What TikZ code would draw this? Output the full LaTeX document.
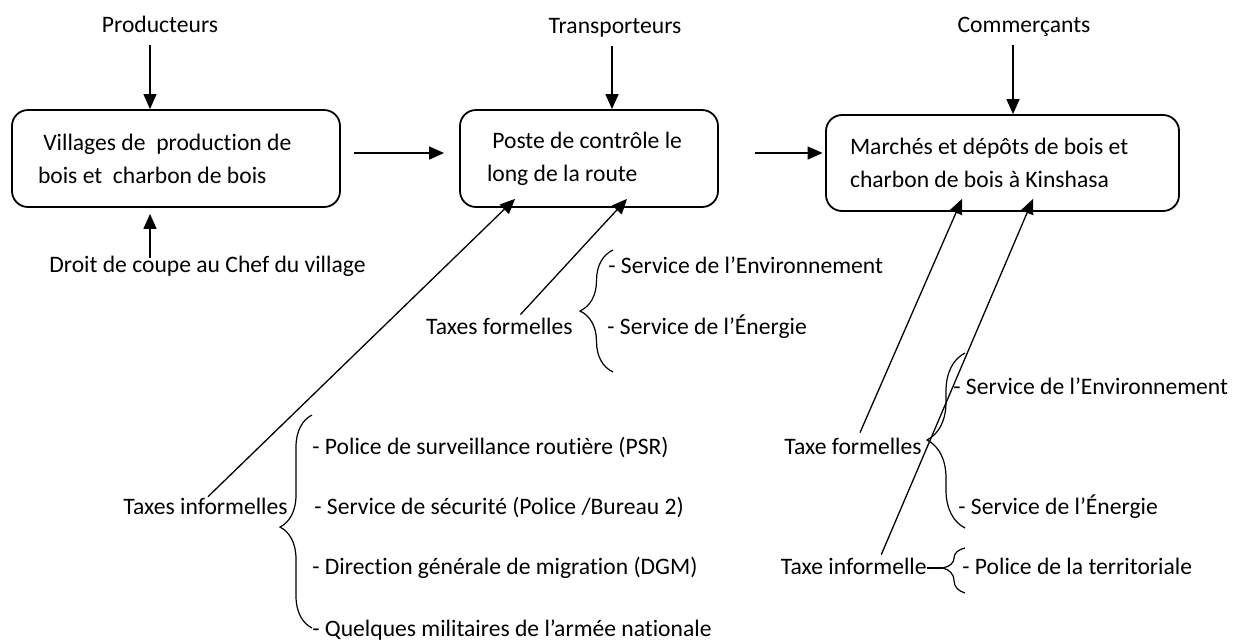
\documentclass[tikz,border=0pt]{standalone}
\usepackage{fontspec}
\setmainfont{Carlito}[Ligatures=NoCommon]
\usetikzlibrary{arrows.meta,calc,decorations.pathreplacing}

\tikzset{
  box/.style={draw, line width=0.9pt, rounded corners=8pt, align=flush left, minimum height=48.5pt, inner ysep=0pt},
  lbl/.style={inner sep=0pt, text height=8.5pt, text depth=2.5pt},
  arr/.style={line width=0.65pt, -{Triangle[length=7.5pt,width=6.5pt]}},
  accol/.style={line width=0.6pt, decorate, decoration={brace, amplitude=#1}},
}

\begin{document}
\begin{tikzpicture}[x=0.5pt, y=-0.5pt, font=\fontsize{11.8pt}{16.5pt}\selectfont]
        \useasboundingbox (0,0) rectangle (1234,639);

        % boxes
        \node[box, text width=138pt, inner xsep=13pt] (village) at (176,158.5) {\ Villages de\ \ production de\\bois et\ \ charbon de bois};
        \node[box, text width=102pt, inner xsep=13.5pt] (poste) at (589,158.5) {\ Poste de contrôle le\\long de la route};
        \node[box, text width=152.5pt, inner xsep=12pt, minimum height=48pt] (march) at (1002.5,163) {Marchés et dépôts de bois et\\charbon de bois à Kinshasa};

        % actors
        \node[lbl] (prod) at (160,26) {Producteurs};
        \node[lbl] (trans) at (615,27) {Transporteurs};
        \node[lbl] (comm) at (1024,26) {Commerçants};
        \node[lbl] (droit) at (207.5,266) {Droit de coupe au Chef du village};

        \draw[arr] ($(prod.south)+(-10,8)$) -- ($(village.north)+(-26,0)$);
        \draw[arr] ($(trans.south)+(-3,8)$) -- ($(poste.north)+(23,0)$);
        \draw[arr] ($(comm.south)+(-11,8)$) -- ($(march.north)+(10.5,0)$);
        \draw[arr] ($(droit.north)+(-57.5,3)$) -- ($(village.south)+(-26,6)$);
        \draw[arr] ($(village.east)+(13,-5.5)$) -- ($(poste.west)+(-15,-5.5)$);
        \draw[arr] ($(poste.east)+(36,-5.5)$) -- ($(march.west)+(-2.5,-10)$);

        % taxes at the road posts
        \node[lbl, anchor=east] (tform) at (573,328) {Taxes formelles};
        \node[lbl, anchor=west] (fenv) at (608,267) {- Service de l’Environnement};
        \node[lbl, anchor=west] (fener) at (607,328) {- Service de l’Énergie};
        \draw[accol=16.5pt, decoration={aspect=0.5}] (613,372) -- (613,250);

        \node[lbl, anchor=east] (tinf) at (288,508) {Taxes informelles};
        \node[lbl, anchor=west] (psr) at (312,448) {- Police de surveillance routière (PSR)};
        \node[lbl, anchor=west] (secu) at (314,508) {- Service de sécurité (Police /Bureau 2)};
        \node[lbl, anchor=west] (dgm) at (312,568) {- Direction générale de migration (DGM)};
        \node[lbl, anchor=west] (mil) at (312,630) {- Quelques militaires de l’armée nationale};
        \draw[accol=16pt, decoration={aspect=0.474}] (312,628) -- (312,415);

        \draw[arr] ($(tinf.north)+(2.5,0)$) -- ($(poste.south)+(-74,-9)$);
        \draw[arr] ($(tform.north)+(21,-2)$) -- ($(poste.south)+(38,-9)$);

        % taxes at Kinshasa
        \node[lbl, anchor=east] (tform2) at (922,448) {Taxe formelles};
        \node[lbl, anchor=west] (kenv) at (953,388) {- Service de l’Environnement};
        \node[lbl, anchor=west] (kener) at (958,508) {- Service de l’Énergie};
        \draw[accol=19pt, decoration={aspect=0.503}] (965,528) -- (965,353);

        \node[lbl, anchor=east] (tinf2) at (927,568) {Taxe informelle};
        \node[lbl, anchor=west] (terr) at (962,568) {- Police de la territoriale};
        \draw[accol=11pt, decoration={aspect=0.556}] (965,593) -- (965,548);
        \draw[line width=0.6pt] (tinf2.east) -- ++(16,0);

        \draw[arr] ($(tform2.north)+(7,-4)$) -- ($(march.south)+(-40.5,-13)$);
        \draw[arr] ($(tinf2.north)+(27.5,-2)$) -- ($(march.south)+(30.5,-13)$);
    \end{tikzpicture}
\end{document}
